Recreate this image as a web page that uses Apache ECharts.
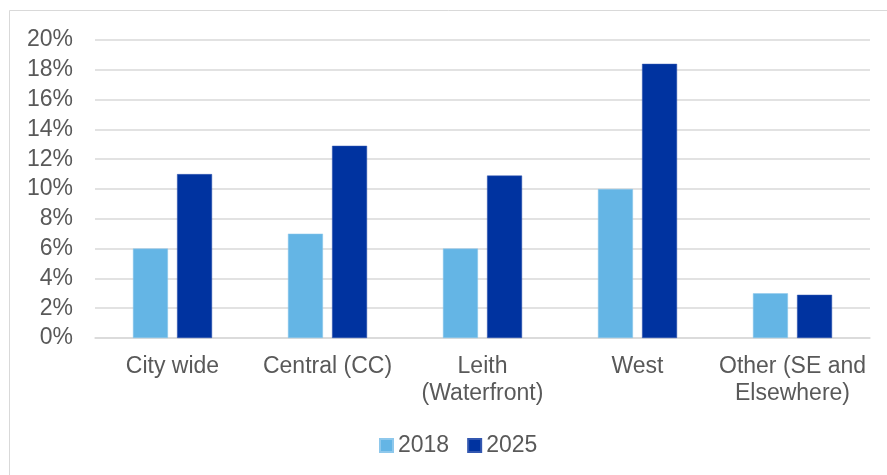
<!DOCTYPE html>
<html>
<head>
<meta charset="utf-8">
<script src="https://cdn.jsdelivr.net/npm/echarts@6/dist/echarts.min.js"></script>
<style>
html, body { margin: 0; padding: 0; background: #fff; }
#chart { width: 887px; height: 475px; }
</style>
</head>
<body>
<div id="chart"></div>
<script>
let categories = ['City wide', 'Central (CC)', 'Leith\n(Waterfront)', 'West', 'Other (SE and\nElsewhere)'];
let values2018 = [6, 7, 6, 10, 3];
let values2025 = [11, 12.9, 10.9, 18.4, 2.9];

let chart = echarts.init(document.getElementById('chart'));
let font = 'Liberation Sans, Arial, sans-serif';
let option = {
    backgroundColor: '#fff',
    graphic: [{
        type: 'rect',
        shape: { x: 9.5, y: 10.5, width: 890, height: 480 },
        style: { fill: 'none', stroke: '#d9d9d9', lineWidth: 1 }
    }],
    legend: {
        top: 429,
        left: 374,
        itemWidth: 13,
        itemHeight: 13,
        itemGap: 18,
        icon: 'rect',
        textStyle: { color: '#595959', fontSize: 23, fontFamily: font },
        data: ['2018', '2025']
    },
    grid: {
        left: 95,
        right: 17,
        top: 40,
        bottom: 137
    },
    xAxis: {
        type: 'category',
        data: categories,
        axisTick: { show: false },
        axisLine: { lineStyle: { color: '#d9d9d9', width: 1.5 } },
        axisLabel: {
            color: '#595959',
            fontSize: 23,
            fontFamily: font,
            lineHeight: 27,
            margin: 15,
            interval: 0
        }
    },
    yAxis: {
        type: 'value',
        min: 0,
        max: 20,
        interval: 2,
        axisLine: { show: false },
        axisTick: { show: false },
        axisLabel: {
            color: '#595959',
            fontSize: 23,
            fontFamily: font,
            margin: 22,
            formatter: '{value}%'
        },
        splitLine: { lineStyle: { color: '#d9d9d9', width: 1.5 } }
    },
    series: [
        {
            name: '2018',
            type: 'bar',
            data: values2018,
            barWidth: 35,
            barGap: '26%',
            itemStyle: { color: '#64B5E5', borderColor: '#8ec8ec', borderWidth: 0.5 }
        },
        {
            name: '2025',
            type: 'bar',
            data: values2025,
            barWidth: 35,
            barGap: '26%',
            itemStyle: { color: '#0033A0', borderColor: '#3357b0', borderWidth: 0.5 }
        }
    ]
};
chart.setOption(option);
</script>
</body>
</html>
